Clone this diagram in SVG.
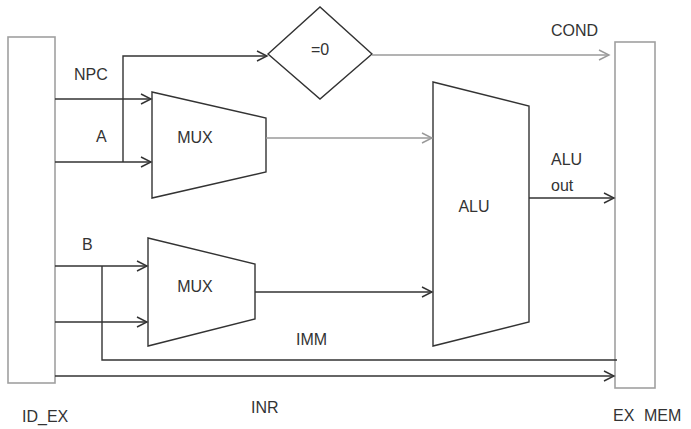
<svg xmlns="http://www.w3.org/2000/svg" width="691" height="429" viewBox="0 0 691 429">
<style>
text{font-family:"Liberation Sans",Arial,sans-serif;font-size:16px;fill:#333}
.reg{fill:#fff;stroke:#a0a0a0;stroke-width:1.6}
.blk{fill:#fff;stroke:#333;stroke-width:1.4}
.w{fill:none;stroke:#333;stroke-width:1.4}
.g{fill:none;stroke:#9a9a9a;stroke-width:1.4}
.ad{marker-end:url(#ad)}
.ag{marker-end:url(#ag)}
</style>
<defs>
<marker id="ad" markerUnits="userSpaceOnUse" markerWidth="14" markerHeight="12" refX="11" refY="6" orient="auto"><path d="M1,1 L11,6 L1,11" fill="none" stroke="#333" stroke-width="1.4"/></marker>
<marker id="ag" markerUnits="userSpaceOnUse" markerWidth="14" markerHeight="12" refX="11" refY="6" orient="auto"><path d="M1,1 L11,6 L1,11" fill="none" stroke="#9a9a9a" stroke-width="1.4"/></marker>
</defs>
<rect width="691" height="429" fill="#fff"/>
<g id="id_ex"><rect class="reg" x="8" y="37" width="47" height="346"/><text x="22" y="422">ID_EX</text></g>
<g id="ex_mem"><rect class="reg" x="615" y="42" width="40" height="346"/><text x="613" y="421">EX</text><text x="644" y="421">MEM</text></g>
<g id="zero"><polygon class="blk" points="268,54 320,7 372,54 320,99"/><text x="320" y="55" text-anchor="middle">=0</text></g>
<g id="mux1"><polygon class="blk" points="152,92 266,118 266,172 152,198"/><text x="195" y="143" text-anchor="middle">MUX</text></g>
<g id="mux2"><polygon class="blk" points="148,238 255,264 255,319 148,346"/><text x="195" y="292" text-anchor="middle">MUX</text></g>
<g id="alu"><polygon class="blk" points="433,82 529,106 529,322 433,346"/><text x="474" y="212" text-anchor="middle">ALU</text></g>
<g id="connectors">
<line class="w ad" x1="55" y1="99" x2="151" y2="99"/>
<line class="w ad" x1="55" y1="162" x2="151" y2="162"/>
<polyline class="w ad" points="123,162 123,56 267,56"/>
<line class="g ag" x1="372" y1="55" x2="609" y2="55"/>
<line class="g ag" x1="266" y1="138" x2="432" y2="138"/>
<line class="w ad" x1="529" y1="198" x2="614" y2="198"/>
<line class="w ad" x1="55" y1="266" x2="147" y2="266"/>
<line class="w ad" x1="55" y1="322" x2="147" y2="322"/>
<polyline class="w" points="102,266 102,360 617,360"/>
<line class="w ad" x1="255" y1="292" x2="432" y2="292"/>
<line class="w ad" x1="55" y1="376" x2="614" y2="376"/>
</g>
<g id="labels">
<text x="74" y="80">NPC</text>
<text x="96" y="142">A</text>
<text x="551" y="36">COND</text>
<text x="551" y="165">ALU</text>
<text x="551" y="191">out</text>
<text x="82" y="250">B</text>
<text x="296" y="345">IMM</text>
<text x="251" y="413">INR</text>
</g>
</svg>
